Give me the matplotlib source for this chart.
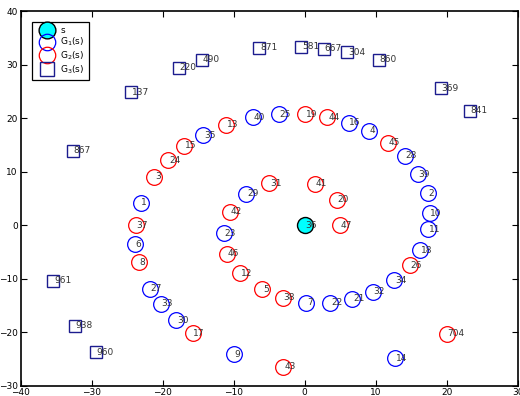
import numpy as np
import matplotlib
matplotlib.use("Agg")
import matplotlib.pyplot as plt

# source node s
src_id = [36]
src_x = [0.0]
src_y = [0.0]

# G1(s): blue circles
g1_id = [40, 25, 16, 4, 28, 39, 2, 10, 11, 18, 34, 32, 21, 22, 7,
         14, 9, 30, 33, 27, 6, 1, 35, 29, 23]
g1_x = [-7.3, -3.6, 6.2, 9.1, 14.1, 15.9, 17.3, 17.6, 17.4, 16.3, 12.6, 9.6, 6.7, 3.6, 0.2,
        12.7, -10.0, -18.1, -20.3, -21.8, -23.9, -23.1, -14.3, -8.2, -11.4]
g1_y = [20.1, 20.7, 19.1, 17.6, 12.9, 9.5, 5.9, 2.2, -0.8, -4.7, -10.3, -12.5, -13.8, -14.5, -14.5,
        -24.9, -24.2, -17.8, -14.7, -11.9, -3.6, 4.2, 16.8, 5.8, -1.5]

# G2(s): red circles
g2_id = [13, 19, 44, 45, 15, 24, 3, 37, 8, 17, 43, 38, 5, 12, 46,
         42, 31, 41, 20, 47, 26, 704]
g2_x = [-11.1, 0.1, 3.2, 11.7, -17.0, -19.2, -21.2, -23.8, -23.4, -15.8, -3.0, -3.1, -6.0, -9.1, -11.0,
        -10.5, -5.0, 1.4, 4.5, 5.0, 14.8, 20.0]
g2_y = [18.7, 20.7, 20.1, 15.4, 14.8, 12.1, 9.0, 0.0, -7.0, -20.2, -26.5, -13.6, -12.0, -9.0, -5.4,
        2.5, 7.8, 7.7, 4.7, 0.0, -7.5, -20.3]

# G3(s): navy squares
g3_id = [137, 220, 490, 871, 581, 667, 304, 860, 369, 841, 867, 961, 938, 960]
g3_x = [-24.4, -17.7, -14.5, -6.4, -0.5, 2.7, 6.0, 10.4, 19.2, 23.3, -32.7, -35.4, -32.4, -29.4]
g3_y = [24.8, 29.4, 30.9, 33.1, 33.3, 32.9, 32.3, 30.9, 25.6, 21.4, 13.9, -10.4, -18.8, -23.8]

navy = '#1c1c8e'

fig = plt.figure(figsize=(5.2, 3.96), dpi=100)
ax = fig.add_axes([0.0398, 0.0265, 0.9558, 0.9457])

ax.plot(src_x, src_y, 'o', ms=11.5, mfc='cyan', mec='k', mew=1.0, ls='none', label='s', zorder=3)
ax.plot(g1_x, g1_y, 'o', ms=11.3, mfc='none', mec='blue', mew=0.9, ls='none', label='G$_1$(s)')
ax.plot(g2_x, g2_y, 'o', ms=11.3, mfc='none', mec='red', mew=0.9, ls='none', label='G$_2$(s)')
ax.plot(g3_x, g3_y, 's', ms=9.3, mfc='none', mec=navy, mew=1.0, ls='none', label='G$_3$(s)')

for ids, xs, ys in [(src_id, src_x, src_y), (g1_id, g1_x, g1_y),
                    (g2_id, g2_x, g2_y), (g3_id, g3_x, g3_y)]:
    for i, x, y in zip(ids, xs, ys):
        ax.text(x + 0.1, y, str(i), fontsize=6.5, color='#333333',
                ha='left', va='center', zorder=4)

ax.set_xlim(-40, 30)
ax.set_ylim(-30, 40)
ax.set_xticks(np.arange(-40, 31, 10))
ax.set_yticks(np.arange(-30, 41, 10))
ax.tick_params(direction='in', length=4, width=0.8, labelsize=6.5,
               top=True, right=True, pad=2)
for sp in ax.spines.values():
    sp.set_linewidth(1.2)

leg = ax.legend(loc='upper left', bbox_to_anchor=(0.0233, 0.9714), borderaxespad=0,
                fontsize=6.5, fancybox=False, framealpha=1, edgecolor='k',
                handletextpad=0.25, labelspacing=0.12, borderpad=0.45, handlelength=2.4,
                markerscale=1.05)
leg.get_frame().set_linewidth(0.9)

fig.savefig('out.png', dpi=100)
